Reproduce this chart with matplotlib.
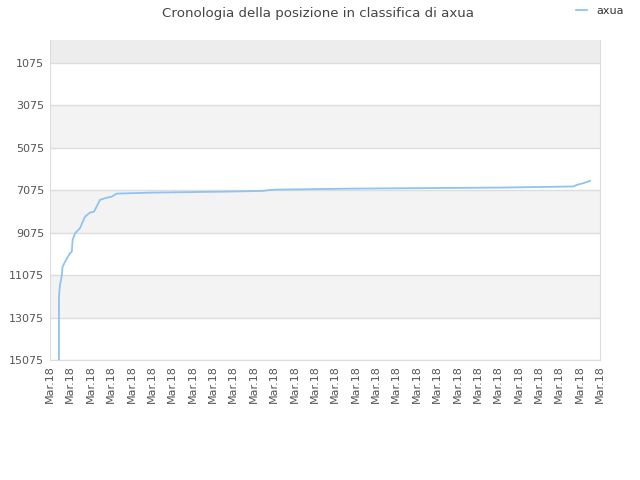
import matplotlib
matplotlib.use("Agg")
import matplotlib.pyplot as plt

# position in the ranking over time (x in tick units, all within Mar.18)
days = [0.44, 0.44, 0.49, 0.57, 0.62, 0.74, 0.98, 1.07, 1.11, 1.23, 1.47,
        1.61, 1.72, 1.96, 2.16, 2.29, 2.45, 2.70, 3.03, 3.27, 5.04, 8.67,
        10.46, 10.70, 11.13, 14.89, 22.09, 25.69, 25.86, 26.18, 26.51]
rank = [15075, 12092, 11540, 11149, 10678, 10442, 10046, 9970, 9419, 9103,
        8867, 8556, 8320, 8132, 8085, 7849, 7533, 7453, 7378, 7236, 7189,
        7142, 7109, 7076, 7048, 7001, 6953, 6900, 6826, 6746, 6637]
y_ticks = [1075, 3075, 5075, 7075, 9075, 11075, 13075, 15075]
x_labels = ["Mar.18"] * 28

fig = plt.figure(figsize=(6.4, 4.8), dpi=100)
ax = fig.add_axes([50 / 640, 1 - 360 / 480, 550 / 640, 320 / 480])

# background bands
ax.axhspan(0, y_ticks[0], color="#ededed", zorder=0, lw=0)
for i in range(len(y_ticks) - 1):
    if i % 2 == 1:
        ax.axhspan(y_ticks[i], y_ticks[i + 1], color="#f3f3f3", zorder=0, lw=0)
for t in y_ticks:
    ax.axhline(t, color="#dddddd", lw=1, zorder=1)

ax.plot(days, rank, color="#90c2f2", lw=1.3, zorder=3, label="axua")

ax.set_ylim(15075, 0)
ax.set_xlim(0, 27)
ax.set_yticks(y_ticks)
ax.set_yticklabels([str(t) for t in y_ticks], fontsize=8, color="#555555")
ax.set_xticks(range(28))
ax.set_xticklabels(x_labels, rotation=90, fontsize=8, color="#555555")
ax.tick_params(length=0, pad=4)
for side in ["left", "bottom", "right", "top"]:
    ax.spines[side].set_color("#dddddd")
ax.spines["top"].set_visible(False)

fig.text(0.497, 0.985, "Cronologia della posizione in classifica di axua",
         ha="center", va="top", fontsize=9.6, color="#444444")
fig.legend(loc="upper right", bbox_to_anchor=(0.99, 1.008), frameon=False,
           fontsize=8, handlelength=1.0, handletextpad=0.8,
           labelcolor="#333333")

fig.savefig("out.png", dpi=100)
